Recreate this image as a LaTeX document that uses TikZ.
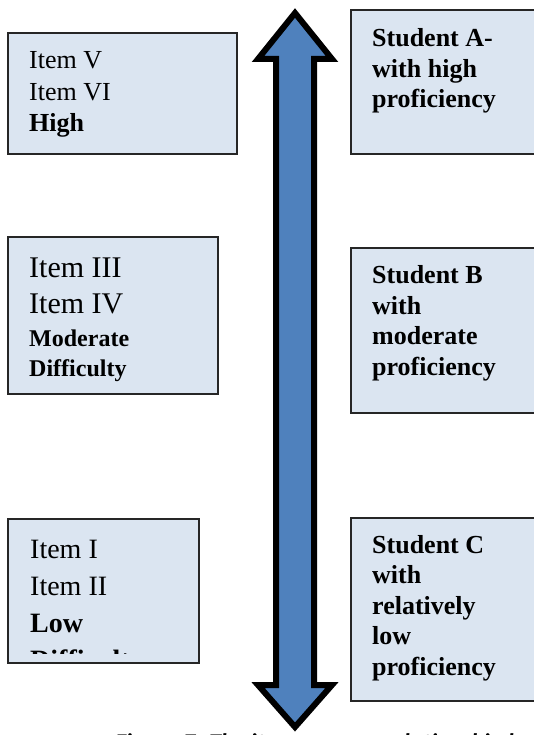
\documentclass[tikz,border=0pt]{standalone}
\usepackage{fontspec}
\setmainfont{Liberation Serif}
\newfontfamily\capfont{Carlito}
\usetikzlibrary{positioning}
\definecolor{boxfill}{HTML}{DBE5F1}
\definecolor{arrowblue}{HTML}{4F81BD}

\tikzset{
  levelbox/.style={draw=black!85,line width=1.2pt,fill=boxfill},
  boxtext/.style={anchor=base west,align=left,inner sep=0pt},
  bigarrow/.style={draw=black,line width=6pt,miter limit=10,fill=arrowblue},
}

\begin{document}
\begin{tikzpicture}[x=1pt,y=-1pt]
\useasboundingbox (0,0) rectangle (533,735);

% item boxes (left), text placed by its last baseline
\draw[levelbox] (8,33) rectangle (237,154);
\node[boxtext,font=\fontsize{26}{31.5}\selectfont] (itemhigh) at (29,132)
  {Item V\\Item VI\\\textbf{High}};

\draw[levelbox] (8,237) rectangle (218,394);
\node[boxtext,font=\fontsize{30}{36}\selectfont] (itemmod) at (29,376)
  {Item III\\Item IV\\[-3pt]
   \fontsize{24}{30}\selectfont\bfseries Moderate\\[-6pt]
   \fontsize{24}{30}\selectfont\bfseries Difficulty};

\draw[levelbox] (8,519) rectangle (199,663);
\begin{scope}
\clip (8,519) rectangle (199,653);
\node[boxtext,font=\fontsize{28}{37}\selectfont] (itemlow) at (30,669)
  {Item I\\Item II\\\textbf{Low}\\\textbf{Difficulty}};
\end{scope}

% student boxes (right)
\draw[levelbox] (351,10) rectangle (545,154);
\node[boxtext,font=\fontsize{26}{30.5}\selectfont\bfseries] (studa) at (372,108)
  {Student A-\\with high\\proficiency};

\draw[levelbox] (351,248) rectangle (545,413);
\node[boxtext,font=\fontsize{26}{30.5}\selectfont\bfseries] (studb) at (372,375)
  {Student B\\with\\moderate\\proficiency};

\draw[levelbox] (351,518) rectangle (545,701);
\node[boxtext,font=\fontsize{26}{30.5}\selectfont\bfseries] (studc) at (372,675)
  {Student C\\with\\relatively\\low\\proficiency};

% caption, cut off by the page edge
\node[anchor=base west,inner sep=0pt,font=\capfont\bfseries\itshape\fontsize{24}{28}\selectfont]
  (caption) at (115,750) {Figure 7: The item--person relationship between};

% double arrow
\draw[bigarrow] (295,13) -- (332,59) -- (314,59) -- (314,685) -- (332,685)
  -- (295,727) -- (258,685) -- (276,685) -- (276,59) -- (258,59) -- cycle;
\end{tikzpicture}
\end{document}
